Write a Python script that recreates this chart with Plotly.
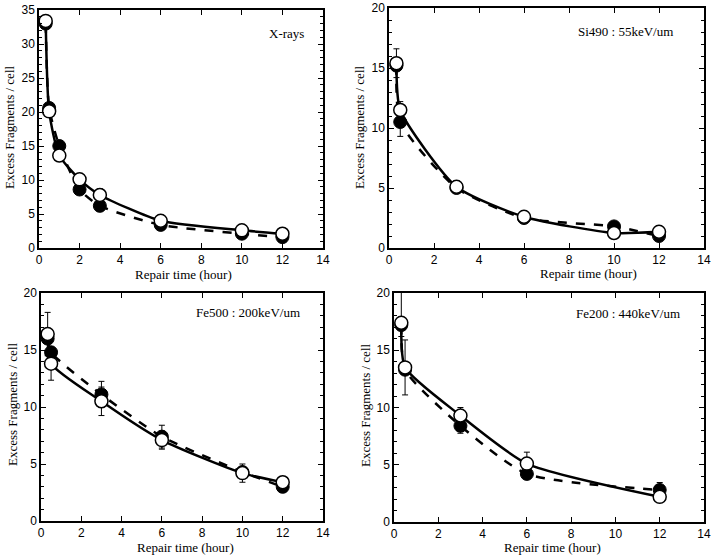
import plotly.graph_objects as go
from plotly.subplots import make_subplots

# Repair times (hours)
t_xray = [0.33, 0.5, 1, 2, 3, 6, 10, 12]
t_si = [0.33, 0.5, 3, 6, 10, 12]
t_fe500 = [0.33, 0.5, 3, 6, 10, 12]
t_fe200 = [0.33, 0.5, 3, 6, 12]

# X-rays
xray_open = [33.4, 20.1, 13.6, 10.1, 7.8, 4.0, 2.6, 2.1]
xray_filled = [33.0, 20.6, 15.0, 8.6, 6.2, 3.4, 2.1, 1.6]
xray_open_err = [None, None, None, None, 0.9, None, None, None]

# Si490 : 55keV/um
si_open = [15.4, 11.5, 5.1, 2.6, 1.25, 1.35]
si_filled = [15.2, 10.5, 5.0, 2.5, 1.8, 1.0]
si_open_err = [1.2, 0.7, 0.5, None, None, None]
si_filled_err = [None, 1.2, None, None, None, None]

# Fe500 : 200keV/um
fe500_open = [16.4, 13.8, 10.5, 7.1, 4.2, 3.4]
fe500_filled = [16.0, 14.8, 11.1, 7.4, 4.3, 3.0]
fe500_open_err = [1.9, 1.45, 1.25, 0.8, 0.8, None]
fe500_filled_err = [None, None, 1.15, 1.0, None, None]

# Fe200 : 440keV/um
fe200_open = [17.4, 13.5, 9.3, 5.1, 2.2]
fe200_filled = [17.2, 13.3, 8.4, 4.2, 2.8]
fe200_open_err_plus = [3.5, 2.4, 0.7, 1.0, None]
fe200_open_err_minus = [1.2, 2.4, 0.7, 1.0, None]
fe200_filled_err = [None, None, 0.65, None, 0.65]

labels = ["X-rays", "Si490 : 55keV/um", "Fe500 : 200keV/um", "Fe200 : 440keV/um"]

W, H = 711, 556
serif = "Liberation Serif"
sans = "Liberation Sans"

fig = make_subplots(rows=2, cols=2)


def err(arr, minus=None):
    if arr is None:
        return None
    d = dict(type="data", array=[a if a is not None else 0 for a in arr],
             visible=True, color="black", thickness=1, width=3)
    if minus is not None:
        d["symmetric"] = False
        d["arrayminus"] = [a if a is not None else 0 for a in minus]
    return d


panels = [
    (1, 1, t_xray, xray_filled, xray_open, None, err(xray_open_err)),
    (1, 2, t_si, si_filled, si_open, err(si_filled_err), err(si_open_err)),
    (2, 1, t_fe500, fe500_filled, fe500_open, err(fe500_filled_err), err(fe500_open_err)),
    (2, 2, t_fe200, fe200_filled, fe200_open, err(fe200_filled_err),
     err(fe200_open_err_plus, fe200_open_err_minus)),
]

for row, col, t, yf, yo, ef, eo in panels:
    fig.add_trace(go.Scatter(
        x=t, y=yf, mode="lines+markers", error_y=ef,
        line=dict(color="black", width=2.5, dash="dash", shape="spline", smoothing=0.6),
        marker=dict(symbol="circle", size=13, color="black", line=dict(color="black", width=1)),
        showlegend=False), row=row, col=col)
    fig.add_trace(go.Scatter(
        x=t, y=yo, mode="lines+markers", error_y=eo,
        line=dict(color="black", width=2.5, shape="spline", smoothing=0.6),
        marker=dict(symbol="circle", size=13, color="white", line=dict(color="black", width=1.5)),
        showlegend=False), row=row, col=col)

# pixel boxes of each plotting area: (x0, x1, ytop, ybottom)
boxes = [(39, 323, 10, 248), (389, 704, 8, 248), (41, 323, 293, 521), (394, 704, 293, 522)]
yranges = [35, 20, 20, 20]

axis_common = dict(
    showgrid=False, zeroline=False, showline=True, linecolor="black", linewidth=1.5,
    mirror="ticks", ticks="inside", ticklen=5, tickwidth=1, tickcolor="black",
    tickfont=dict(family=sans, size=12, color="black"), automargin=False,
    ticklabeloverflow="allow",
)

for i, (x0, x1, yt, yb) in enumerate(boxes):
    n = "" if i == 0 else str(i + 1)
    fig.layout["xaxis" + n].update(
        domain=[x0 / W, x1 / W], range=[0, 14], dtick=2, tick0=0, **axis_common)
    fig.layout["yaxis" + n].update(
        domain=[1 - yb / H, 1 - yt / H], range=[0, yranges[i]], dtick=5, tick0=0,
        minor=dict(dtick=1, ticks="inside", ticklen=3, tickcolor="black", tickwidth=1),
        **axis_common)

annotations = []
# panel labels (data coords)
label_pos = [(13.15, 31.6), (12.7, 18.05), (12.98, 18.3), (13.02, 18.25)]
for i, (lx, ly) in enumerate(label_pos):
    n = "" if i == 0 else str(i + 1)
    annotations.append(dict(
        text=labels[i], x=lx, y=ly, xref="x" + n, yref="y" + n, xanchor="right",
        yanchor="middle", showarrow=False, font=dict(family=serif, size=13, color="black")))

# axis titles (pixel positions)
xt_pos = [(183, 274), (588, 273), (185, 547), (552, 547)]
yt_pos = [(9, 128), (359, 128), (12, 405), (365, 406)]
for (px, py) in xt_pos:
    annotations.append(dict(
        text="Repair time (hour)", x=px / W, y=1 - py / H, xref="paper", yref="paper",
        xanchor="center", yanchor="middle", showarrow=False,
        font=dict(family=serif, size=13, color="black")))
for (px, py) in yt_pos:
    annotations.append(dict(
        text="Excess Fragments / cell", x=px / W, y=1 - py / H, xref="paper", yref="paper",
        xanchor="center", yanchor="middle", textangle=-90, showarrow=False,
        font=dict(family=serif, size=13, color="black")))

fig.update_layout(
    width=W, height=H, margin=dict(l=0, r=0, t=0, b=0, autoexpand=False),
    plot_bgcolor="white", paper_bgcolor="white",
    annotations=annotations, showlegend=False,
)

# remove the page margin, then redraw so tick labels are laid out at the final position
redraw = (
    "document.body.style.margin='0';"
    "var gd=document.getElementById('{plot_id}');"
    "Plotly.newPlot(gd, gd.data, gd.layout, {displayModeBar:false});"
)
fig.write_html("out.html", config={"displayModeBar": False}, post_script=redraw)
